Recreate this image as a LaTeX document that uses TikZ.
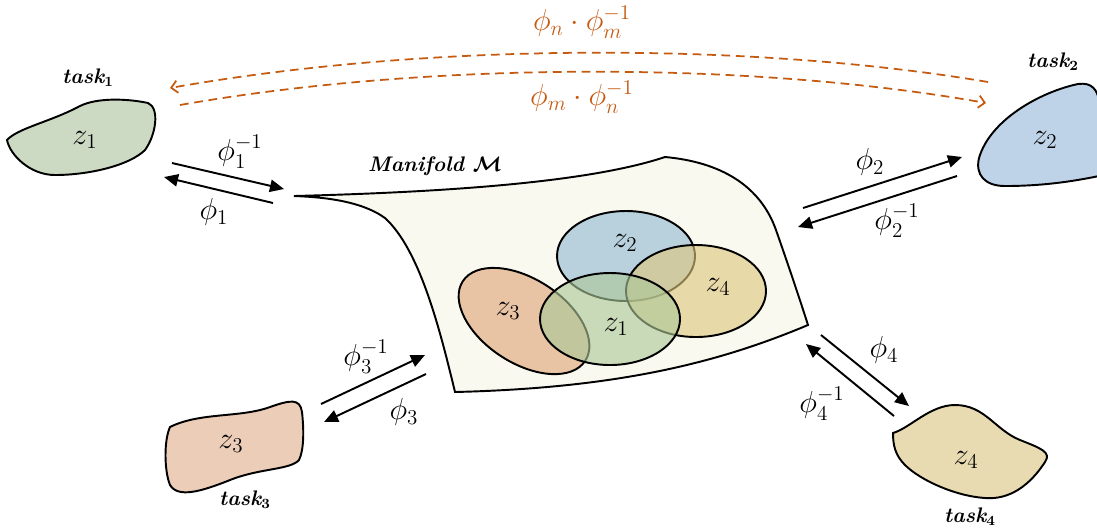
\documentclass[tikz,border=0pt]{standalone}
\usepackage{amsmath,bm}
\usetikzlibrary{arrows.meta}
\definecolor{orng}{RGB}{197,90,17}
\definecolor{bgreen}{RGB}{204,218,196}
\definecolor{bblue}{RGB}{190,211,232}
\definecolor{bpeach}{RGB}{236,205,184}
\definecolor{byellow}{RGB}{233,219,177}
\definecolor{mani}{RGB}{249,249,240}
\definecolor{eblue}{RGB}{145,185,210}
\definecolor{eyellow}{RGB}{222,198,125}
\definecolor{egreen}{RGB}{172,200,152}
\definecolor{epeach}{RGB}{222,165,120}
\tikzset{
  blob/.style={draw=black, line width=1.1pt},
  arr/.style={line width=1.1pt, -{Triangle[length=8pt,width=7pt]}},
  darr/.style={orng, line width=1pt, dash pattern=on 5pt off 3.2pt, -{Straight Barb[length=3.5pt,width=7pt]}},
  lab/.style={font=\fontsize{17}{19}\selectfont, inner sep=0pt},
  olab/.style={lab, text=orng},
  tlab/.style={font=\fontsize{12}{14}\selectfont\bfseries\itshape, inner sep=0pt},
  ell/.style={draw=black, line width=1.1pt, fill opacity=0.62},
}
\begin{document}
\begin{tikzpicture}[x=0.02cm, y=-0.02cm]
\useasboundingbox (0,0) rectangle (1097,529);

% manifold
\draw[blob, fill=mani] (294,196) .. controls (450,192) and (590,182) .. (665,157)
  .. controls (720,162) and (760,185) .. (776,230)
  .. controls (790,270) and (800,300) .. (808,325)
  .. controls (720,362) and (620,388) .. (455,392)
  .. controls (440,330) and (420,250) .. (385,218)
  .. controls (360,200) and (320,197) .. (294,196) -- cycle;
\node[font=\fontsize{12}{14}\selectfont\bfseries\itshape, inner sep=0pt] (mlab) at (435,166) {Manifold~$\boldsymbol{\mathcal{M}}$};

% ellipses on manifold
\draw[ell, fill=epeach, shift={(524,321)}, rotate=-33] (0,0) ellipse [x radius=73, y radius=42];
\draw[ell, fill=eblue] (626,256) ellipse [x radius=69, y radius=45];
\draw[ell, fill=eyellow] (696,291) ellipse [x radius=70, y radius=46];
\draw[ell, fill=egreen] (610,319) ellipse [x radius=70, y radius=46];
\node[lab] (m3) at (508,311) {$z_3$};
\node[lab] (m2) at (625,243) {$z_2$};
\node[lab] (m4) at (718,287) {$z_4$};
\node[lab] (m1) at (616,327) {$z_1$};

% task blobs
\draw[blob, fill=bgreen] (7,140) .. controls (18,128) and (50,122) .. (80,106)
  .. controls (98,97) and (130,99) .. (148,103)
  .. controls (160,108) and (156,135) .. (145,150)
  .. controls (130,165) and (90,175) .. (55,175)
  .. controls (30,175) and (10,155) .. (7,140) -- cycle;
\node[lab] (z1) at (85,140) {$z_1$};
\node[tlab] (t1) at (88,78) {task$_{\mathbf 1}$};

\draw[blob, fill=bblue] (979,158) .. controls (990,120) and (1040,92) .. (1078,84)
  .. controls (1092,82) and (1097,90) .. (1099,100) -- (1099,176)
  .. controls (1070,182) and (1040,186) .. (1005,186)
  .. controls (985,186) and (975,175) .. (979,158) -- cycle;
\node[lab] (z2) at (1045,140) {$z_2$};
\node[tlab] (t2) at (1053,62) {task$_{\mathbf 2}$};

\draw[blob, fill=bpeach] (170,427) .. controls (200,412) and (240,418) .. (270,407)
  .. controls (290,400) and (300,398) .. (302,412)
  .. controls (304,430) and (304,450) .. (299,460)
  .. controls (290,470) and (260,468) .. (230,480)
  .. controls (200,492) and (178,498) .. (170,485)
  .. controls (164,470) and (164,440) .. (170,427) -- cycle;
\node[lab] (z3) at (231,444) {$z_3$};
\node[tlab] (t3) at (245,500) {task$_{\mathbf 3}$};

\draw[blob, fill=byellow] (893,433) .. controls (910,428) and (930,405) .. (955,405)
  .. controls (985,405) and (995,430) .. (1020,440)
  .. controls (1040,448) and (1052,452) .. (1045,462)
  .. controls (1030,485) and (1010,500) .. (985,498)
  .. controls (955,496) and (920,480) .. (905,465)
  .. controls (895,455) and (893,445) .. (893,433) -- cycle;
\node[lab] (z4) at (966,460) {$z_4$};
\node[tlab] (t4) at (970,517) {task$_{\mathbf 4}$};

% arrow endpoints
\coordinate (a1s) at (172,163); \coordinate (a1e) at (284,189);
\coordinate (b1s) at (273,203); \coordinate (b1e) at (164,177);
\coordinate (a2s) at (803,208); \coordinate (a2e) at (962,157);
\coordinate (b2s) at (957,176); \coordinate (b2e) at (798,227);
\coordinate (a3s) at (321,404); \coordinate (a3e) at (425,355);
\coordinate (b3s) at (426,374); \coordinate (b3e) at (324,422);
\coordinate (a4s) at (821,335); \coordinate (a4e) at (909,406);
\coordinate (b4s) at (894,416); \coordinate (b4e) at (806,344);

\draw[arr] (a1s) -- (a1e);
\draw[arr] (b1s) -- (b1e);
\draw[arr] (a2s) -- (a2e);
\draw[arr] (b2s) -- (b2e);
\draw[arr] (a3s) -- (a3e);
\draw[arr] (b3s) -- (b3e);
\draw[arr] (a4s) -- (a4e);
\draw[arr] (b4s) -- (b4e);

\node[lab] (l1a) at (240,152) {$\phi_1^{-1}$};
\node[lab] (l1b) at (214,212) {$\phi_1$};
\node[lab] (l2a) at (870,162) {$\phi_2$};
\node[lab] (l2b) at (897,221) {$\phi_2^{-1}$};
\node[lab] (l3a) at (366,357) {$\phi_3^{-1}$};
\node[lab] (l3b) at (404,412) {$\phi_3$};
\node[lab] (l4a) at (884,350) {$\phi_4$};
\node[lab] (l4b) at (822,404) {$\phi_4^{-1}$};

% orange dashed arrows
\coordinate (o1s) at (988,82); \coordinate (o1e) at (170,88);
\coordinate (o2s) at (180,105); \coordinate (o2e) at (986,103);
\draw[darr] (o1s) .. controls (750,42) and (430,42) .. (o1e);
\draw[darr] (o2s) .. controls (430,61) and (750,61) .. (o2e);
\node[olab] (ol1) at (582,22) {$\phi_n\cdot\phi_m^{-1}$};
\node[olab] (ol2) at (582,97) {$\phi_m\cdot\phi_n^{-1}$};
\end{tikzpicture}
\end{document}
